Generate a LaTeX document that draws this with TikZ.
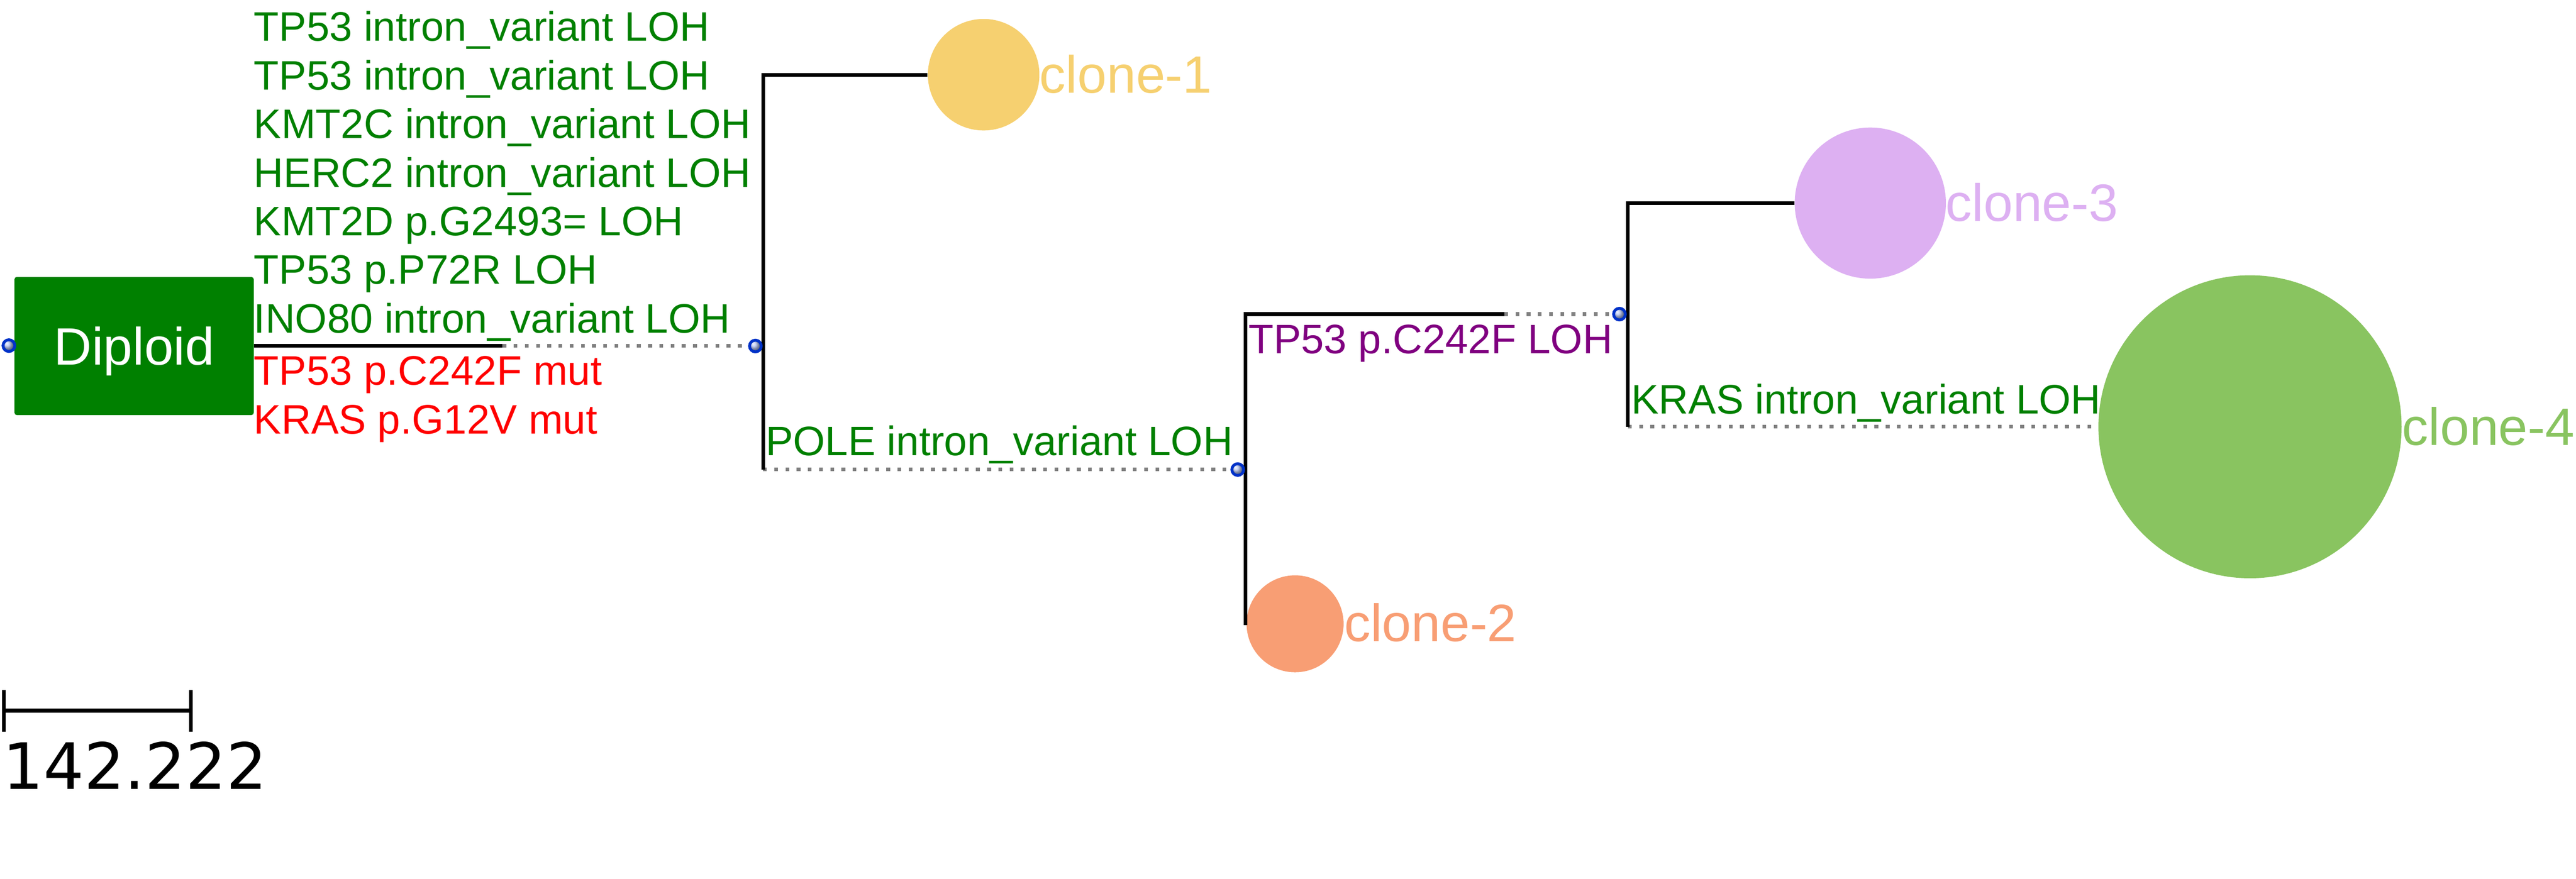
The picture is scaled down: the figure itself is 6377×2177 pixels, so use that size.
\documentclass[tikz,border=0pt]{standalone}
\usepackage{fontspec}
\setmainfont{Liberation Sans}
\newfontfamily\dejavu{DejaVu Sans}
\definecolor{mutgreen}{RGB}{0,128,0}
\definecolor{mutred}{RGB}{255,0,0}
\definecolor{mutpurple}{RGB}{128,0,128}
\definecolor{cloneA}{RGB}{246,208,112}
\definecolor{cloneB}{RGB}{248,158,116}
\definecolor{cloneC}{RGB}{221,176,242}
\definecolor{cloneD}{RGB}{137,196,96}
\definecolor{dotblue}{RGB}{0,50,200}
\definecolor{extgray}{RGB}{128,128,128}
\begin{document}
\begin{tikzpicture}[x=0.01cm,y=-0.01cm,
  mut/.style={anchor=base west, inner sep=0pt, font=\fontsize{29pt}{35pt}\selectfont, text=mutgreen},
  clonelbl/.style={anchor=base west, inner sep=0pt, font=\fontsize{37pt}{44pt}\selectfont},
  branch/.style={line width=2.56pt, black},
  ext/.style={line width=2.56pt, extgray, dash pattern=on 2.65pt off 5.24pt},
  jdot/.style={circle, inner sep=0pt, minimum size=0.29cm, draw=dotblue, line width=2pt, shading=ball, ball color=dotblue!30!white},
  clonecirc/.style={circle, inner sep=0pt, draw=none}
]
\useasboundingbox (0,0) rectangle (6377,2177);
\fill[white] (0,0) rectangle (6377,2177);

% nodes
\node[rectangle, rounded corners=0.06cm, fill=mutgreen, minimum width=5.92cm, minimum height=3.42cm, inner sep=0pt] (dip) at (332,857) {};
\node[anchor=base, inner sep=0pt, text=white, font=\fontsize{37pt}{44pt}\selectfont] (diptext) at (332,903) {Diploid};

\node[clonecirc, fill=cloneA, minimum size=2.76cm] (c1) at (2435,185) {};
\node[clonecirc, fill=cloneB, minimum size=2.40cm] (c2) at (3206,1545) {};
\node[clonecirc, fill=cloneC, minimum size=3.74cm] (c3) at (4630,503) {};
\node[clonecirc, fill=cloneD, minimum size=7.50cm] (c4) at (5570,1057) {};

\coordinate (s1) at (1244,856);
\coordinate (v1b) at (1889,1163);
\coordinate (s2) at (3724,778);
\coordinate (v2b) at (3083,1548);
\coordinate (v3b) at (4030,1057);

% extension (dotted) connectors
\draw[ext] (s1) -- (1870,856);
\draw[ext] (v1b) -- (3064,1163);
\draw[ext] (s2) -- (4009,778);
\draw[ext] (v3b) -- (c4.west);

% branches
\draw[branch] (dip.east |- s1) -- (s1);
\draw[branch] (c1.west) -| (v1b);
\draw[branch] (s2) -| (v2b);
\draw[branch] (c3.west) -| (v3b);

% junction dots
\node[jdot] (n0) at (22,856) {};
\node[jdot] (n1) at (1870,857) {};
\node[jdot] (n2) at (3064,1163) {};
\node[jdot] (n3) at (4009,778) {};

% clone labels
\node[clonelbl, text=cloneA] (l1) at (2573,230) {clone-1};
\node[clonelbl, text=cloneB] (l2) at (3327,1589) {clone-2};
\node[clonelbl, text=cloneC] (l3) at (4816,548) {clone-3};
\node[clonelbl, text=cloneD] (l4) at (5946,1102) {clone-4};

% mutation labels
\node[mut] (m1) at (628,102) {TP53 intron\_variant LOH};
\node[mut] (m2) at (628,222) {TP53 intron\_variant LOH};
\node[mut] (m3) at (628,342) {KMT2C intron\_variant LOH};
\node[mut] (m4) at (628,463) {HERC2 intron\_variant LOH};
\node[mut] (m5) at (628,583) {KMT2D p.G2493= LOH};
\node[mut] (m6) at (628,703) {TP53 p.P72R LOH};
\node[mut] (m7) at (628,824) {INO80 intron\_variant LOH};
\node[mut, text=mutred] (m8) at (628,953) {TP53 p.C242F mut};
\node[mut, text=mutred] (m9) at (628,1074) {KRAS p.G12V mut};
\node[mut] (m10) at (1895,1128) {POLE intron\_variant LOH};
\node[mut, text=mutpurple] (m11) at (3090,876) {TP53 p.C242F LOH};
\node[mut] (m12) at (4038,1025) {KRAS intron\_variant LOH};

% scale bar
\draw[branch] (9,1709) -- (9,1812);
\draw[branch] (472,1709) -- (472,1812);
\draw[branch] (9,1760) -- (472,1760);
\node[anchor=base west, inner sep=0pt, font=\dejavu\fontsize{45pt}{53pt}\selectfont] (scale) at (6,1955) {142.222};
\end{tikzpicture}
\end{document}
